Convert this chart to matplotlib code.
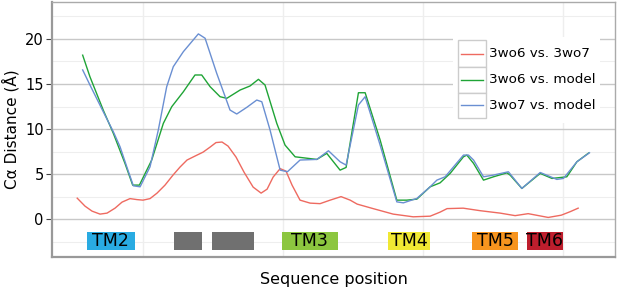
import matplotlib
matplotlib.use('Agg')
import matplotlib.pyplot as plt
from matplotlib.patches import Rectangle

# Cα distance along the sequence
red_pos = [53, 58.6, 63.6, 69.3, 74.3, 80, 85, 90.7, 95.7, 100, 105, 110, 115.7, 121.4, 126.4,
           131.4, 137.1, 142.9, 147.9, 152.1, 156.4, 160.7, 166.4, 172.1, 178.6, 184.3, 188.6,
           192.9, 197.9, 202.1, 206.4, 212.1, 219.3, 226.4, 233.6, 241.4, 247.9, 252.9, 264.3,
           278.6, 292.9, 305, 312.1, 317.1, 328.6, 340.7, 355, 365.7, 375, 389.3, 398.6, 405, 410.7]
red_val = [2.33, 1.44, 0.89, 0.56, 0.67, 1.22, 1.89, 2.28, 2.17, 2.11, 2.28, 2.89, 3.78, 4.89, 5.78,
           6.56, 7.0, 7.44, 8.0, 8.5, 8.56, 8.11, 6.89, 5.22, 3.56, 2.89, 3.33,
           4.67, 5.61, 5.33, 3.78, 2.11, 1.78, 1.72, 2.11, 2.5, 2.11, 1.67, 1.17,
           0.56, 0.26, 0.33, 0.78, 1.17, 1.22, 0.94, 0.67, 0.39, 0.61, 0.19, 0.44, 0.83, 1.22]

green_pos = [56.9, 62.1, 71.6, 78.8, 87.1, 92.6, 97.4, 106.2, 114.5, 120.5, 128.8, 137.1, 141.9,
             147.9, 155, 159.8, 169.3, 176.4, 182.4, 187.1, 195.5, 201.4, 208.6, 224.1, 231.2,
             240.7, 245, 253.8, 258.6, 269.3, 281.2, 288.3, 295.5, 305, 312.1, 319.3, 328.8,
             331.2, 336, 343.1, 350.2, 359.8, 362.1, 370.5, 383.6, 392, 402.6, 409.8, 418.1]
green_val = [18.2, 15.8, 12.1, 9.52, 6.19, 3.78, 3.78, 6.56, 10.63, 12.48, 14.14, 16.0, 16.0,
             14.7, 13.59, 13.41, 14.33, 14.78, 15.52, 14.89, 10.63, 8.22, 6.92, 6.63, 7.3,
             5.44, 5.74, 14.03, 14.03, 8.78, 2.11, 2.11, 2.22, 3.59, 4.03, 5.08, 6.92,
             7.11, 6.19, 4.33, 4.7, 5.14, 4.89, 3.41, 5.08, 4.52, 4.7, 6.37, 7.33]

blue_pos = [56.9, 62.1, 71.6, 78.8, 83.6, 88.4, 93.1, 97.9, 105, 110.9, 116.9, 121.6, 128.8,
            139.5, 144.3, 152.6, 162.1, 166.9, 174.1, 181.2, 184.8, 190.7, 197.9, 203.1, 212.1,
            224.1, 232.4, 240.7, 245, 253.8, 258.6, 269.3, 281.2, 285.9, 295.5, 305, 309.8,
            315.7, 328.8, 332.4, 336, 343.1, 350.2, 360.9, 370.5, 383.6, 395.5, 400.2, 409.8, 418.8]
blue_val = [16.56, 14.89, 11.92, 9.7, 8.03, 5.81, 3.7, 3.59, 5.81, 9.89, 14.7, 16.92, 18.59,
            20.56, 20.08, 16.19, 12.11, 11.67, 12.41, 13.22, 13.03, 9.89, 5.44, 5.26, 6.56,
            6.63, 7.59, 6.37, 6.0, 12.67, 13.59, 8.22, 1.92, 1.81, 2.3, 3.59, 4.33,
            4.7, 7.11, 7.11, 6.56, 4.7, 4.89, 5.26, 3.41, 5.18, 4.41, 4.52, 6.37, 7.37]

series_labels = ['3wo6 vs. 3wo7', '3wo6 vs. model', '3wo7 vs. model']
series_colors = ['#EE6A60', '#1FA436', '#6A8FD2']

# helix annotation boxes
seg_labels = ['TM2', '', '', 'TM3', 'TM4', 'TM5', 'TM6']
seg_start = [60, 122, 149, 199, 275, 335, 374]
seg_end = [94, 142, 179, 239, 305, 368, 400]
seg_colors = ['#29ABE2', '#707070', '#707070', '#8CC63F', '#F0E833', '#F7941E', '#BE1E2D']

fig = plt.figure(figsize=(6.17, 2.91), dpi=100)
ax = fig.add_axes([52 / 617, 34 / 291, 563 / 617, 255 / 291])

ax.set_xlim(35, 437)
ax.set_ylim(-4.2, 24.1)

# grid
for v in [-2.5, 2.5, 7.5, 12.5, 17.5, 22.5]:
    ax.axhline(v, color='#EEEEEE', lw=0.8, zorder=0)
for v in [100, 200, 300, 400]:
    ax.axvline(v, color='#EEEEEE', lw=1.0, zorder=0)
for v in [0, 5, 10, 15, 20]:
    ax.axhline(v, color='#C8C8C8', lw=1.0, zorder=0)

ax.plot(red_pos, red_val, color=series_colors[0], lw=1.0, zorder=3)
ax.plot(green_pos, green_val, color=series_colors[1], lw=1.0, zorder=3)
ax.plot(blue_pos, blue_val, color=series_colors[2], lw=1.0, zorder=4)

ax.bar(seg_start, [2.0] * len(seg_start), width=[e - s for s, e in zip(seg_start, seg_end)],
       bottom=-3.44, align='edge', color=seg_colors, zorder=2)
for lab, s, e in zip(seg_labels, seg_start, seg_end):
    if lab:
        ax.text((s + e) / 2, -2.44, lab, ha='center', va='center', fontsize=12.5, color='black', zorder=5)

ax.set_yticks([0, 5, 10, 15, 20])
ax.set_xticks([])
ax.tick_params(axis='y', length=4, width=0.8, color='#444444', labelsize=10.5, pad=2)
for sp in ax.spines.values():
    sp.set_color('#AAAAAA')
    sp.set_linewidth(1.0)
ax.spines['left'].set_color('#999999')
ax.spines['bottom'].set_color('#999999')
ax.spines['left'].set_linewidth(1.6)
ax.spines['bottom'].set_linewidth(1.6)

ax.set_ylabel('Cα Distance (Å)', fontsize=11, labelpad=4)
ax.set_xlabel('Sequence position', fontsize=11.5, labelpad=11)

# legend (ggplot-style keys)
ax.add_patch(Rectangle((0.712, 0.527), 0.261, 0.336, transform=ax.transAxes,
                       facecolor='white', edgecolor='none', zorder=6))
row_top = [0.851, 0.745, 0.645]
row_h = [0.106, 0.100, 0.101]
for lab, col, top, h in zip(series_labels, series_colors, row_top, row_h):
    ax.add_patch(Rectangle((0.7217, top - h), 0.0486, h, transform=ax.transAxes,
                           facecolor='white', edgecolor='#CCCCCC', lw=1.0, zorder=7))
    ax.plot([0.727, 0.765], [top - h / 2] * 2, transform=ax.transAxes, color=col, lw=1.0, zorder=8)
    ax.text(0.776, top - h / 2, lab, transform=ax.transAxes, fontsize=9.7, va='center', ha='left', zorder=8)

fig.savefig('out.png', dpi=100)
